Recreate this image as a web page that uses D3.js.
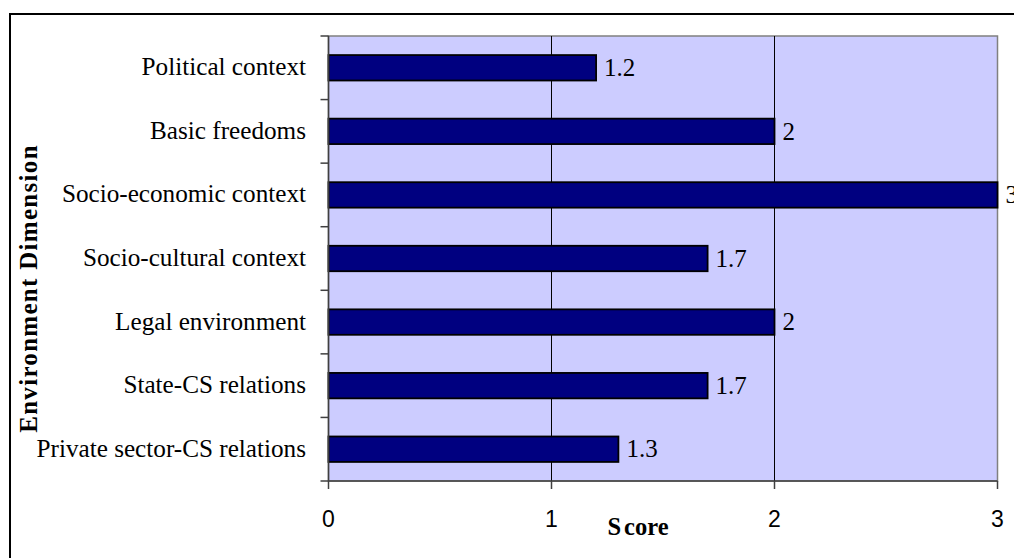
<!DOCTYPE html>
<html>
<head>
<meta charset="utf-8">
<script src="https://cdn.jsdelivr.net/npm/d3@7"></script>
<style>
  html, body { margin: 0; padding: 0; background: #ffffff; }
  svg { display: block; }
</style>
</head>
<body>
<svg id="chart" width="1014" height="558"></svg>
<script>
// Environment dimension scores
const categories = [
  "Political context",
  "Basic freedoms",
  "Socio-economic context",
  "Socio-cultural context",
  "Legal environment",
  "State-CS relations",
  "Private sector-CS relations"
];
const scores = [1.2, 2, 3, 1.7, 2, 1.7, 1.3];
const xTicks = [0, 1, 2, 3];
const xTitle = "Score";
const yTitle = "Environment Dimension";

const svg = d3.select("#chart");
const plot = { left: 328.5, right: 997.5, top: 36, bottom: 481 };

const x = d3.scaleLinear().domain([0, 3]).range([plot.left, plot.right]);
const y = d3.scaleBand().domain(categories).range([plot.top, plot.bottom]).padding(0);
const barH = y.bandwidth() * 0.4;

// outer chart frame
svg.append("rect")
  .attr("x", 10).attr("y", 14)
  .attr("width", 1100).attr("height", 600)
  .attr("fill", "#ffffff")
  .attr("stroke", "#000000").attr("stroke-width", 2);

// plot background
svg.append("rect")
  .attr("x", plot.left).attr("y", plot.top)
  .attr("width", plot.right - plot.left).attr("height", plot.bottom - plot.top)
  .attr("fill", "#ccccff")
  .attr("stroke", "#808080").attr("stroke-width", 1.5);

// vertical gridlines
svg.append("g").selectAll("line")
  .data(xTicks.filter(t => t > 0 && t < 3))
  .join("line")
  .attr("x1", d => x(d)).attr("x2", d => x(d))
  .attr("y1", plot.top).attr("y2", plot.bottom)
  .attr("stroke", "#000000").attr("stroke-width", 1);

// bars
svg.append("g").selectAll("rect")
  .data(categories)
  .join("rect")
  .attr("x", x(0))
  .attr("y", d => y(d) + (y.bandwidth() - barH) / 2)
  .attr("width", (d, i) => x(scores[i]) - x(0))
  .attr("height", barH)
  .attr("fill", "#000080")
  .attr("stroke", "#000000").attr("stroke-width", 1.8);

// value labels
svg.append("g").selectAll("text")
  .data(categories)
  .join("text")
  .attr("x", (d, i) => x(scores[i]) + 8)
  .attr("y", d => y(d) + y.bandwidth() / 2)
  .attr("dy", "0.33em")
  .attr("font-family", "'Liberation Serif', 'Times New Roman', serif")
  .attr("font-size", 25)
  .attr("fill", "#000000")
  .text((d, i) => scores[i]);

// y axis: line, outward ticks at band boundaries, category labels
const yAxis = svg.append("g");
yAxis.append("line")
  .attr("x1", plot.left).attr("x2", plot.left)
  .attr("y1", plot.top).attr("y2", plot.bottom)
  .attr("stroke", "#404040").attr("stroke-width", 1.5);
const bounds = categories.map(c => y(c)).concat([plot.bottom]);
yAxis.selectAll("line.tick")
  .data(bounds)
  .join("line")
  .attr("class", "tick")
  .attr("x1", plot.left - 8).attr("x2", plot.left)
  .attr("y1", d => d).attr("y2", d => d)
  .attr("stroke", "#404040").attr("stroke-width", 1.5);
yAxis.selectAll("text")
  .data(categories)
  .join("text")
  .attr("x", 306)
  .attr("y", d => y(d) + y.bandwidth() / 2)
  .attr("dy", "0.3em")
  .attr("text-anchor", "end")
  .attr("font-family", "'Liberation Serif', 'Times New Roman', serif")
  .attr("font-size", 25.2)
  .attr("fill", "#000000")
  .text(d => d);

// x axis
const xAxis = svg.append("g");
xAxis.append("line")
  .attr("x1", plot.left).attr("x2", plot.right)
  .attr("y1", plot.bottom).attr("y2", plot.bottom)
  .attr("stroke", "#404040").attr("stroke-width", 1.5);
xAxis.selectAll("line.tick")
  .data(xTicks)
  .join("line")
  .attr("class", "tick")
  .attr("x1", d => x(d)).attr("x2", d => x(d))
  .attr("y1", plot.bottom).attr("y2", plot.bottom + 8)
  .attr("stroke", "#404040").attr("stroke-width", 1.5);
xAxis.selectAll("text")
  .data(xTicks)
  .join("text")
  .attr("x", d => x(d))
  .attr("y", 527)
  .attr("text-anchor", "middle")
  .attr("font-family", "'Liberation Sans', Arial, sans-serif")
  .attr("font-size", 23)
  .attr("fill", "#000000")
  .text(d => d);

// axis titles
const xt = svg.append("text")
  .attr("x", 638).attr("y", 535)
  .attr("text-anchor", "middle")
  .attr("font-family", "'Liberation Serif', 'Times New Roman', serif")
  .attr("font-weight", "bold")
  .attr("font-size", 24.5)
  .attr("fill", "#000000");
xt.append("tspan").text(xTitle.slice(0, 1));
xt.append("tspan").attr("dx", 3).text(xTitle.slice(1));

svg.append("text")
  .attr("transform", "translate(37,288.5) rotate(-90)")
  .attr("text-anchor", "middle")
  .attr("font-family", "'Liberation Serif', 'Times New Roman', serif")
  .attr("font-weight", "bold")
  .attr("font-size", 25)
  .attr("letter-spacing", 1.3)
  .attr("fill", "#000000")
  .text(yTitle);
</script>
</body>
</html>
